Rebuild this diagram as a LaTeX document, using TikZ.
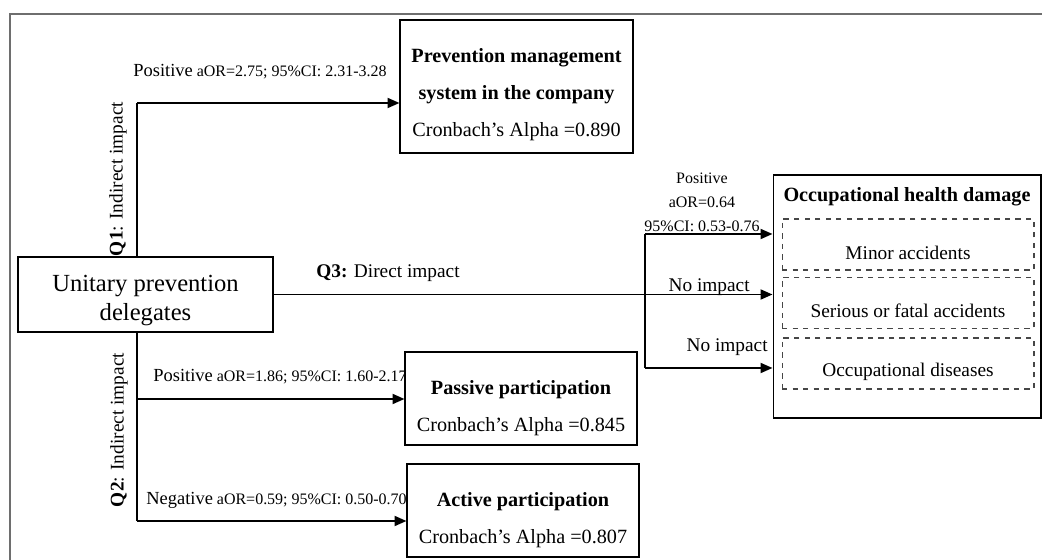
\documentclass[tikz,border=0pt]{standalone}
\usepackage{fontspec}
\setmainfont{Liberation Serif}
\usepackage{tikz}
\usetikzlibrary{arrows.meta,positioning}
\definecolor{framegray}{RGB}{110,110,110}
\definecolor{dashgray}{RGB}{70,70,70}
\newcommand{\topgap}[1]{\rule{0pt}{#1}}

\begin{document}
\begin{tikzpicture}[
    x=0.02cm, y=-0.02cm,
    box/.style={rectangle, draw, line width=0.6pt, align=center, inner sep=0pt},
    boxtext/.style={font=\fontsize{11.5}{21}\selectfont},
    subbox/.style={rectangle, draw=dashgray, dashed, line width=0.6pt, minimum width=5.04cm, minimum height=1.02cm, font=\fontsize{11}{13}\selectfont},
    lbl/.style={font=\fontsize{9.1}{13.6}\selectfont, inner sep=0pt},
    qlbl/.style={font=\fontsize{11}{13}\selectfont, inner sep=0pt},
    trunk/.style={line width=0.7pt},
    arrow/.style={-{Triangle[length=0.24cm,width=0.2cm]}, line width=1.1pt}
]
\useasboundingbox (0,0) rectangle (1042,560);

% Outer frame
\draw[framegray, line width=0.8pt] (10,560) -- (10,14) -- (1042,14);

% Delegates
\node[box, minimum width=5.1cm, minimum height=1.5cm, font=\fontsize{14}{16.5}\selectfont] (upd) at (145.5,294.5) {\topgap{16pt}Unitary prevention\\delegates};

% Mediators
\node[box, boxtext, minimum width=4.66cm, minimum height=2.66cm] (pms) at (516.5,86.5) {\topgap{17pt}\textbf{Prevention management}\\\textbf{system in the company}\\Cronbach's Alpha =0.890};
\node[box, boxtext, minimum width=4.64cm, minimum height=1.86cm] (pass) at (521,398.5) {\topgap{19pt}\textbf{Passive participation}\\Cronbach's Alpha =0.845};
\node[box, boxtext, minimum width=4.64cm, minimum height=1.86cm] (act) at (523,510.5) {\topgap{19pt}\textbf{Active participation}\\Cronbach's Alpha =0.807};

% Occupational health damage
\node[box, minimum width=5.36cm, minimum height=4.86cm] (ohd) at (907,296.5) {};
\node[font=\fontsize{11.5}{13}\selectfont\bfseries] (ohdtitle) at (907,197) {Occupational health damage};
\node[subbox] (minor) at (908,244.5) {\topgap{17pt}Minor accidents};
\node[subbox] (serious) at (908,303) {\topgap{17pt}Serious or fatal accidents};
\node[subbox] (disease) at (908,363.5) {\topgap{17pt}Occupational diseases};

% Q1
\coordinate (q1turn) at (137,103);
\draw[trunk] (upd.north -| q1turn) -- (q1turn);
\draw[arrow] (q1turn) -- (q1turn -| pms.west);
\node[qlbl, rotate=90] (q1lbl) at (118,179) {\textbf{Q1}: Indirect impact};
\node[lbl, anchor=base west] (q1val) at (133,77) {{\fontsize{10.5}{13}\selectfont Positive} aOR=2.75; 95\%CI: 2.31-3.28};

% Q2
\coordinate (q2pass) at (137,399);
\coordinate (q2act) at (137,521);
\draw[trunk] (upd.south -| q2act) -- (q2act);
\draw[arrow] (q2pass) -- (q2pass -| pass.west);
\draw[arrow] (q2act) -- (q2act -| act.west);
\node[qlbl, rotate=90] (q2lbl) at (119,430) {\textbf{Q2}: Indirect impact};
\node[lbl, anchor=base west] (q2pval) at (153,382) {{\fontsize{10.5}{13}\selectfont Positive} aOR=1.86; 95\%CI: 1.60-2.17};
\node[lbl, anchor=base west] (q2aval) at (146,505) {{\fontsize{10.5}{13}\selectfont Negative} aOR=0.59; 95\%CI: 0.50-0.70};

% Q3
\coordinate (splittop) at (645,234);
\coordinate (splitbot) at (645,368);
\draw[arrow] (upd.east) -- (upd.east -| ohd.west);
\draw[trunk] (splittop) -- (splitbot);
\draw[arrow] (splittop) -- (splittop -| ohd.west);
\draw[arrow] (splitbot) -- (splitbot -| ohd.west);
\node[qlbl, anchor=base west] (q3lbl) at (316,278) {\textbf{Q3:} Direct impact};
\node[lbl, align=center, anchor=south] (minorval) at (702,232) {Positive\\aOR=0.64\\95\%CI: 0.53-0.76};
\node[qlbl, anchor=base east] (seriousval) at (750,292) {No impact};
\node[qlbl, anchor=base east] (diseaseval) at (768,352) {No impact};

\end{tikzpicture}
\end{document}
